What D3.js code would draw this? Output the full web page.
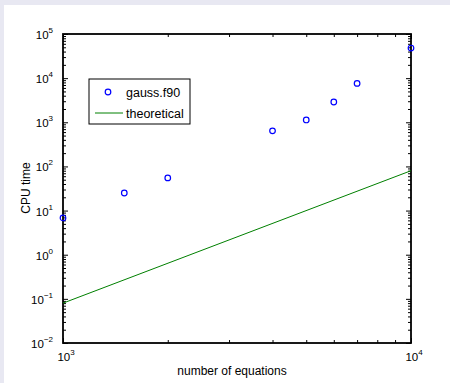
<!DOCTYPE html>
<html>
<head>
<meta charset="utf-8">
<script src="https://d3js.org/d3.v7.min.js"></script>
<style>
body { margin: 0; background: #e8e8f2; }
svg { display: block; }
text { font-family: "Liberation Sans", Arial, sans-serif; }
</style>
</head>
<body>
<div id="chart"></div>
<script>

// measured run times
var equations = [1000, 1500, 2000, 4000, 5000, 6000, 7000, 10000];
var cpuTime = [6.8, 25, 55, 640, 1130, 2880, 7600, 48000];

// theoretical O(n^3) curve, end points
var theoryN = [1000, 10000];
var theoryT = [0.08, 80];

var xDecades = [1e3, 1e4];
var yDecades = [1e-2, 1e-1, 1e0, 1e1, 1e2, 1e3, 1e4, 1e5];

var W = 450, H = 383;
var margin = {top: 34, right: 39, bottom: 40, left: 63};
var width = W - margin.left - margin.right,
    height = H - margin.top - margin.bottom;

var svg = d3.select("#chart").append("svg")
    .attr("width", W)
    .attr("height", H);

// white figure panel
svg.append("rect")
  .attr("x", 4).attr("y", 5)
  .attr("width", W - 4).attr("height", H - 5)
  .attr("fill", "#fff");

var g = svg.append("g")
  .attr("transform", "translate(" + margin.left + "," + margin.top + ")");

var x = d3.scaleLog().domain([1e3, 1e4]).range([0, width]);
var y = d3.scaleLog().domain([1e-2, 1e5]).range([height, 0]);

function minors(decades) {
  var out = [];
  decades.slice(0, -1).forEach(function(d) {
    for (var k = 2; k <= 9; k++) out.push(d * k);
  });
  return out;
}

// ticks on all four sides, pointing in
function ticks(axis, cls, tr) {
  g.append("g").attr("class", cls).attr("transform", tr).call(axis)
    .call(function(s) {
      s.select(".domain").remove();
      s.selectAll("line").attr("stroke", "#000");
      s.selectAll("text").remove();
    });
}
ticks(d3.axisBottom(x).tickValues(xDecades).tickSize(-5), "xmaj", "translate(0," + height + ")");
ticks(d3.axisBottom(x).tickValues(minors(xDecades)).tickSize(-3), "xmin", "translate(0," + height + ")");
ticks(d3.axisTop(x).tickValues(xDecades).tickSize(-5), "xmaj2", "translate(0,0)");
ticks(d3.axisTop(x).tickValues(minors(xDecades)).tickSize(-3), "xmin2", "translate(0,0)");
ticks(d3.axisLeft(y).tickValues(yDecades).tickSize(-5), "ymaj", "translate(0,0)");
ticks(d3.axisLeft(y).tickValues(minors(yDecades)).tickSize(-3), "ymin", "translate(0,0)");
ticks(d3.axisRight(y).tickValues(yDecades).tickSize(-5), "ymaj2", "translate(" + width + ",0)");
ticks(d3.axisRight(y).tickValues(minors(yDecades)).tickSize(-3), "ymin2", "translate(" + width + ",0)");

// frame
g.append("rect")
  .attr("width", width).attr("height", height)
  .attr("fill", "none").attr("stroke", "#000").attr("stroke-width", 1.8);

// power-of-ten labels
function pow10(sel, v) {
  var e = Math.round(Math.log10(v));
  sel.append("tspan").text("10");
  sel.append("tspan").attr("dy", -6).attr("font-size", "8px")
    .text(e < 0 ? "\u2212" + (-e) : e);
}

g.selectAll(".ylab").data(yDecades).enter().append("text")
  .attr("class", "ylab")
  .attr("x", -10).attr("y", function(d) { return y(d) + 5; })
  .attr("text-anchor", "end")
  .attr("font-size", "11.5px")
  .each(function(d) { pow10(d3.select(this), d); });

g.selectAll(".xlab").data(xDecades).enter().append("text")
  .attr("class", "xlab")
  .attr("x", function(d) { return x(d) + 3; }).attr("y", height + 18)
  .attr("text-anchor", "middle")
  .attr("font-size", "11.5px")
  .each(function(d) { pow10(d3.select(this), d); });

// theoretical line
var line = d3.line()
  .x(function(d, i) { return x(theoryN[i]); })
  .y(function(d) { return y(d); });
g.append("path")
  .datum(theoryT)
  .attr("d", line)
  .attr("fill", "none")
  .attr("stroke", "#008000")
  .attr("stroke-width", 1);

// measured points
g.selectAll(".pt").data(cpuTime).enter().append("circle")
  .attr("class", "pt")
  .attr("cx", function(d, i) { return x(equations[i]); })
  .attr("cy", function(d) { return y(d); })
  .attr("r", 2.8)
  .attr("fill", "none")
  .attr("stroke", "#0000ff")
  .attr("stroke-width", 1.2);

// axis titles
svg.append("text")
  .attr("x", 232).attr("y", 375)
  .attr("text-anchor", "middle").attr("font-size", "12px")
  .text("number of equations");
svg.append("text")
  .attr("transform", "translate(30," + 188 + ") rotate(-90)")
  .attr("text-anchor", "middle").attr("font-size", "12px")
  .text("CPU time");

// legend
var leg = svg.append("g").attr("transform", "translate(89,79)");
leg.append("rect")
  .attr("width", 101).attr("height", 45)
  .attr("fill", "#fff").attr("stroke", "#000").attr("stroke-width", 1);
leg.append("circle")
  .attr("cx", 19).attr("cy", 13).attr("r", 2.8)
  .attr("fill", "none").attr("stroke", "#0000ff").attr("stroke-width", 1.2);
leg.append("text").attr("x", 37).attr("y", 17.5).attr("font-size", "12.5px").text("gauss.f90");
leg.append("line")
  .attr("x1", 6).attr("x2", 34).attr("y1", 34).attr("y2", 34)
  .attr("stroke", "#008000");
leg.append("text").attr("x", 37).attr("y", 38.5).attr("font-size", "12.5px").text("theoretical");

</script>
</body>
</html>
